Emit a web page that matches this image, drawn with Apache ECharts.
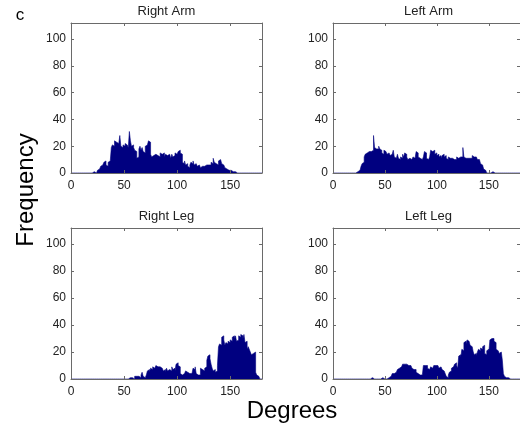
<!DOCTYPE html>
<html>
<head>
<meta charset="utf-8">
<script src="https://cdn.jsdelivr.net/npm/echarts@6/dist/echarts.min.js"></script>
<style>
html,body{margin:0;padding:0;background:#fff;}
#chart{width:520px;height:432px;}
</style>
</head>
<body>
<div id="chart"></div>
<script>
// 1-degree bins, left edges 0..179
const degreeBins = [];
for (let d = 0; d < 180; d++) degreeBins.push(d);

const panelTitles = ['Right Arm', 'Left Arm', 'Right Leg', 'Left Leg'];
const xTickLabels = [0, 50, 100, 150];
const yTickLabels = [0, 20, 40, 60, 80, 100];

const rightArm = [
  0,0,0,0,0,0,0,0,0,0,
  0,0,0,0,0,0,0,0,0,0,
  0,1,0,0,0,2,3,4,5,6,
  7,8,9,6,5,8,9,10,19,21,
  20,24,23,24,22,21,28,20,19,21,
  20,22,21,20,19,31,24,20,21,19,
  17,16,11,12,18,20,17,19,16,15,
  20,21,22,24,23,14,12,13,12,14,
  15,13,14,12,15,14,13,15,12,14,
  13,12,14,13,11,14,12,13,15,14,
  13,16,17,15,14,8,7,9,6,7,
  5,4,6,8,7,9,6,7,8,5,
  6,5,4,5,6,5,4,6,5,6,
  7,6,8,7,11,8,7,8,6,9,
  10,9,7,6,5,4,3,4,2,3,
  2,1,1,1,1,0,0,0,0,0,
  0,0,0,0,0,0,0,0,0,0,
  0,0,0,0,0,0,0,0,0,0
];

const leftArm = [
  0,0,0,0,0,0,0,0,0,0,
  0,0,0,0,0,0,0,0,0,0,
  0,0,0,1,1,2,3,5,7,8,
  12,14,15,15,16,15,16,15,17,28,
  19,18,17,18,20,18,17,15,14,17,
  16,17,14,15,14,13,14,15,17,12,
  11,12,14,11,10,12,11,14,12,15,
  14,12,10,11,12,10,11,12,11,10,
  16,15,12,11,12,10,11,12,16,15,
  11,10,11,12,17,16,15,17,14,15,
  13,14,12,13,11,13,14,12,13,11,
  10,12,11,10,11,12,10,11,10,12,
  11,10,12,13,12,19,12,11,12,11,
  12,11,12,11,13,12,11,12,11,10,
  10,9,7,6,5,3,2,1,0,0,
  0,0,0,1,0,0,0,0,0,0,
  0,0,0,0,0,0,0,0,0,0,
  0,0,0,0,0,0,0,0,0,0
];

const rightLeg = [
  0,0,0,0,0,0,0,0,0,0,
  0,0,0,0,0,0,0,0,0,0,
  0,0,0,0,0,0,0,0,0,0,
  0,0,0,0,0,0,0,0,0,0,
  0,0,0,0,0,0,0,0,0,0,
  0,0,0,0,0,1,0,1,1,0,
  2,2,1,2,2,1,3,5,2,1,
  2,3,6,7,5,8,7,9,8,9,
  10,9,8,9,10,8,7,6,7,5,
  8,6,7,8,6,9,7,8,6,11,
  12,10,9,4,3,2,4,5,6,5,
  6,4,3,4,5,8,7,9,4,3,
  2,3,8,7,8,6,8,9,14,17,
  18,15,11,8,6,7,5,6,10,24,
  26,25,31,32,29,25,27,26,28,27,
  29,28,31,32,30,32,28,29,32,31,
  33,32,30,33,27,28,22,24,22,20,
  18,19,18,20,5,3,2,1,0,0
];

const leftLeg = [
  0,0,0,0,0,0,0,0,0,0,
  0,0,0,0,0,0,0,0,0,0,
  0,0,0,0,0,0,0,0,0,0,
  0,0,1,0,0,0,0,1,0,0,
  0,0,0,0,0,0,0,1,0,0,
  0,0,0,1,1,2,3,4,4,5,
  5,6,7,8,8,9,10,11,11,10,
  11,10,10,9,10,9,8,7,6,7,
  5,4,5,3,4,3,4,10,10,9,
  10,8,7,8,9,8,9,10,10,9,
  10,9,8,9,8,7,6,5,4,2,
  1,3,5,6,8,9,10,11,12,10,
  8,17,18,16,22,21,27,28,26,29,
  28,27,25,24,23,20,18,19,17,20,
  22,21,23,22,24,25,19,18,21,22,
  20,29,30,29,30,28,27,22,21,20,
  19,20,19,14,4,2,1,1,1,0,
  0,0,0,0,0,0,0,0,0,0
];

const panelData = [rightArm, leftArm, rightLeg, leftLeg];

const gridRects = [
  {left: 71, top: 23, width: 191, height: 150},
  {left: 333, top: 23, width: 191, height: 150},
  {left: 71, top: 228, width: 191, height: 151},
  {left: 333, top: 228, width: 191, height: 151}
];

const axisColor = '#6a6a6a';
const labelFont = {color: '#222', fontFamily: 'Liberation Sans, Arial, sans-serif', fontSize: 12};
const xAxes = [], yAxes = [], series = [], graphics = [];

gridRects.forEach((g, i) => {
  const xbase = xAxes.length;
  xAxes.push({
    gridIndex: i, type: 'value', position: 'bottom', min: 0, max: 180, interval: 50, z: 5,
    axisLine: {show: true, onZero: false, lineStyle: {color: axisColor, width: 1}},
    axisTick: {show: true, inside: true, length: 3, lineStyle: {color: axisColor}},
    axisLabel: Object.assign({show: true, margin: 7, showMaxLabel: false,
      formatter: v => xTickLabels.includes(v) ? String(v) : ''}, labelFont),
    splitLine: {show: false}
  });
  xAxes.push({
    gridIndex: i, type: 'value', position: 'top', min: 0, max: 180, interval: 50,
    axisLine: {show: true, onZero: false, lineStyle: {color: axisColor, width: 1}},
    axisTick: {show: true, inside: true, length: 3, lineStyle: {color: axisColor}},
    axisLabel: {show: false}, splitLine: {show: false}
  });
  const ybase = yAxes.length;
  yAxes.push({
    gridIndex: i, type: 'value', position: 'left', min: 0, max: 112, interval: 20, z: 5,
    axisLine: {show: true, onZero: false, lineStyle: {color: axisColor, width: 1}},
    axisTick: {show: true, inside: true, length: 3, lineStyle: {color: axisColor}},
    axisLabel: Object.assign({show: true, margin: 5, showMaxLabel: false,
      formatter: v => yTickLabels.includes(v) ? String(v) : ''}, labelFont),
    splitLine: {show: false}
  });
  yAxes.push({
    gridIndex: i, type: 'value', position: 'right', min: 0, max: 112, interval: 20,
    axisLine: {show: true, onZero: false, lineStyle: {color: axisColor, width: 1}},
    axisTick: {show: true, inside: true, length: 3, lineStyle: {color: axisColor}},
    axisLabel: {show: false}, splitLine: {show: false}
  });
  const vals = panelData[i];
  // histogram outline: each bin spans [edge, edge+1]
  const pts = degreeBins.map((d, k) => [d, vals[k]]);
  pts.push([degreeBins[degreeBins.length - 1] + 1, vals[vals.length - 1]]);
  series.push({
    type: 'line', xAxisIndex: xbase, yAxisIndex: ybase,
    data: pts, step: 'end', symbol: 'none', showSymbol: false,
    lineStyle: {color: '#000080', width: 0.6},
    areaStyle: {color: '#000080', opacity: 1, origin: 'start'},
    silent: true, animation: false, z: 2
  });
  graphics.push({
    type: 'text', x: g.left + g.width / 2, y: g.top - 12,
    style: {text: panelTitles[i], x: 0, y: 0, textAlign: 'center', textVerticalAlign: 'middle',
      fill: '#222', font: '13px "Liberation Sans", Arial, sans-serif'}
  });
});

graphics.push({
  type: 'text', x: 20, y: 15,
  style: {text: 'c', textAlign: 'center', textVerticalAlign: 'middle',
    fill: '#000', font: '17px "Liberation Sans", Arial, sans-serif'}
});
graphics.push({
  type: 'text', x: 26, y: 190, rotation: Math.PI / 2,
  style: {text: 'Frequency', textAlign: 'center', textVerticalAlign: 'middle',
    fill: '#000', font: '24px "Liberation Sans", Arial, sans-serif'}
});
graphics.push({
  type: 'text', x: 292, y: 411,
  style: {text: 'Degrees', textAlign: 'center', textVerticalAlign: 'middle',
    fill: '#000', font: '24px "Liberation Sans", Arial, sans-serif'}
});

const chart = echarts.init(document.getElementById('chart'), null, {renderer: 'canvas'});
chart.setOption({
  animation: false,
  backgroundColor: '#ffffff',
  grid: gridRects.map(g => Object.assign({containLabel: false}, g)),
  xAxis: xAxes,
  yAxis: yAxes,
  series: series,
  graphic: graphics
});
</script>
</body>
</html>
